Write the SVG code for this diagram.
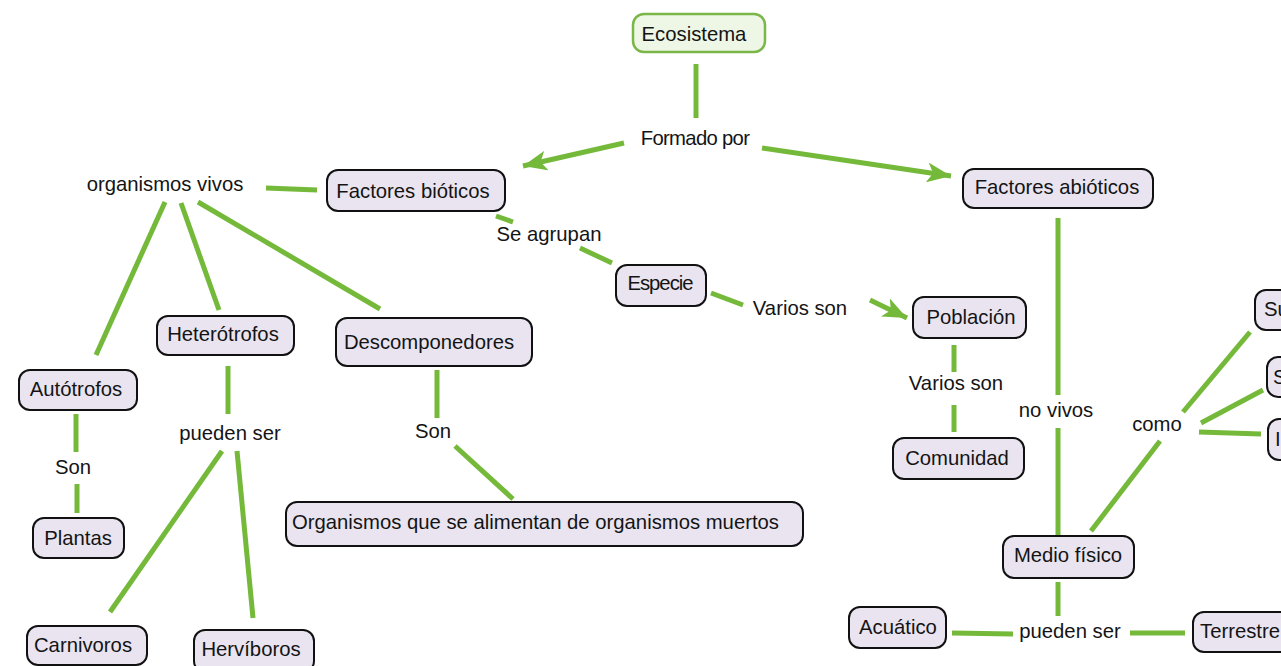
<svg xmlns="http://www.w3.org/2000/svg" width="1281" height="666" viewBox="0 0 1281 666">
<style>
.box{fill:#e9e4f0;stroke:#111;stroke-width:2}
.root{fill:#eef6e6;stroke:#7ab648;stroke-width:2.5}
text{font-family:"Liberation Sans",Arial,sans-serif;font-size:20.3px;fill:#141414}
.c{text-anchor:middle}
.ln{stroke:#74b93a;stroke-width:5;fill:none}
</style>
<defs>
<marker id="ah" markerUnits="userSpaceOnUse" markerWidth="26" markerHeight="20" refX="24" refY="10" orient="auto">
<path d="M0,0 L24,10 L0,20 L6,10 Z" fill="#74b93a"/>
</marker>
</defs>
<rect width="1281" height="666" fill="#fff"/>
<g id="connectors">
<line class="ln" x1="696" y1="64" x2="696" y2="118"/>
<line class="ln" x1="624" y1="143" x2="523" y2="166" marker-end="url(#ah)"/>
<line class="ln" x1="762" y1="148" x2="951" y2="176" marker-end="url(#ah)"/>
<line class="ln" x1="317" y1="190" x2="266" y2="188"/>
<line class="ln" x1="165" y1="202" x2="96" y2="355"/>
<line class="ln" x1="181" y1="203" x2="219" y2="310"/>
<line class="ln" x1="198" y1="202" x2="380" y2="309"/>
<line class="ln" x1="496" y1="216" x2="513" y2="222"/>
<line class="ln" x1="580" y1="248" x2="612" y2="263"/>
<line class="ln" x1="711" y1="293" x2="743" y2="305"/>
<line class="ln" x1="870" y1="300" x2="907" y2="318" marker-end="url(#ah)"/>
<line class="ln" x1="954" y1="345" x2="954" y2="372"/>
<line class="ln" x1="954" y1="405" x2="954" y2="432"/>
<line class="ln" x1="1058" y1="218" x2="1058" y2="395"/>
<line class="ln" x1="1058" y1="428" x2="1058" y2="538"/>
<line class="ln" x1="1091" y1="531" x2="1160" y2="441"/>
<line class="ln" x1="1183" y1="412" x2="1250" y2="332"/>
<line class="ln" x1="1201" y1="423" x2="1263" y2="390"/>
<line class="ln" x1="1199" y1="432" x2="1261" y2="434"/>
<line class="ln" x1="1058" y1="582" x2="1058" y2="616"/>
<line class="ln" x1="1013" y1="634" x2="952" y2="633"/>
<line class="ln" x1="1130" y1="633" x2="1185" y2="633"/>
<line class="ln" x1="228" y1="366" x2="228" y2="414"/>
<line class="ln" x1="222" y1="451" x2="110" y2="612"/>
<line class="ln" x1="237" y1="451" x2="253" y2="618"/>
<line class="ln" x1="76" y1="414" x2="76" y2="452"/>
<line class="ln" x1="77" y1="484" x2="77" y2="513"/>
<line class="ln" x1="437" y1="370" x2="437" y2="418"/>
<line class="ln" x1="455" y1="446" x2="513" y2="499"/>
</g>
<g id="ecosistema"><rect class="root" x="633" y="14" width="132" height="38" rx="11"/><text class="c" x="694" y="41">Ecosistema</text></g>
<g id="bioticos"><rect class="box" x="327" y="170" width="178" height="41" rx="11"/><text class="c" x="413" y="198">Factores bióticos</text></g>
<g id="abioticos"><rect class="box" x="963" y="169" width="190" height="39" rx="11"/><text class="c" x="1057" y="194">Factores abióticos</text></g>
<g id="especie"><rect class="box" x="616" y="265" width="90" height="41" rx="11"/><text class="c" x="660" y="290" letter-spacing="-1">Especie</text></g>
<g id="poblacion"><rect class="box" x="913" y="297" width="113" height="41" rx="11"/><text class="c" x="971" y="324">Población</text></g>
<g id="comunidad"><rect class="box" x="893" y="438" width="131" height="41" rx="11"/><text class="c" x="957" y="465">Comunidad</text></g>
<g id="heterotrofos"><rect class="box" x="157" y="316" width="137" height="39" rx="11"/><text class="c" x="223" y="341">Heterótrofos</text></g>
<g id="descomponedores"><rect class="box" x="336" y="318" width="196" height="48" rx="11"/><text class="c" x="429" y="349">Descomponedores</text></g>
<g id="autotrofos"><rect class="box" x="19" y="370" width="118" height="40" rx="11"/><text class="c" x="76" y="396">Autótrofos</text></g>
<g id="plantas"><rect class="box" x="33" y="518" width="91" height="40" rx="11"/><text class="c" x="78" y="545">Plantas</text></g>
<g id="organismos-muertos"><rect class="box" x="286" y="502" width="517" height="44" rx="11"/><text x="292" y="529">Organismos que se alimentan de organismos muertos</text></g>
<g id="carnivoros"><rect class="box" x="27" y="626" width="120" height="39" rx="11"/><text class="c" x="83" y="652">Carnivoros</text></g>
<g id="herviboros"><rect class="box" x="194" y="630" width="120" height="42" rx="11"/><text class="c" x="251" y="656">Hervíboros</text></g>
<g id="medio-fisico"><rect class="box" x="1003" y="536" width="131" height="42" rx="11"/><text class="c" x="1068" y="562">Medio físico</text></g>
<g id="acuatico"><rect class="box" x="849" y="607" width="97" height="41" rx="11"/><text class="c" x="898" y="634">Acuático</text></g>
<g id="terrestre"><rect class="box" x="1193" y="612" width="110" height="40" rx="11"/><text x="1200" y="638">Terrestre</text></g>
<g id="suelo"><rect class="box" x="1255" y="290" width="80" height="40" rx="11"/><text x="1264" y="316">Suelo</text></g>
<g id="sol"><rect class="box" x="1267" y="357" width="60" height="40" rx="11"/><text x="1273" y="384">Sol</text></g>
<g id="luz"><rect class="box" x="1268" y="419" width="60" height="41" rx="11"/><text x="1275" y="446">Iluminación</text></g>
<g id="labels">
<text class="c" x="695" y="145" letter-spacing="-0.7">Formado por</text>
<text class="c" x="165" y="191">organismos vivos</text>
<text class="c" x="549" y="241">Se agrupan</text>
<text class="c" x="800" y="315">Varios son</text>
<text class="c" x="956" y="390">Varios son</text>
<text class="c" x="1056" y="417">no vivos</text>
<text class="c" x="1157" y="431">como</text>
<text class="c" x="230" y="440">pueden ser</text>
<text class="c" x="73" y="474">Son</text>
<text class="c" x="433" y="438">Son</text>
<text class="c" x="1070" y="638">pueden ser</text>
</g>
</svg>
